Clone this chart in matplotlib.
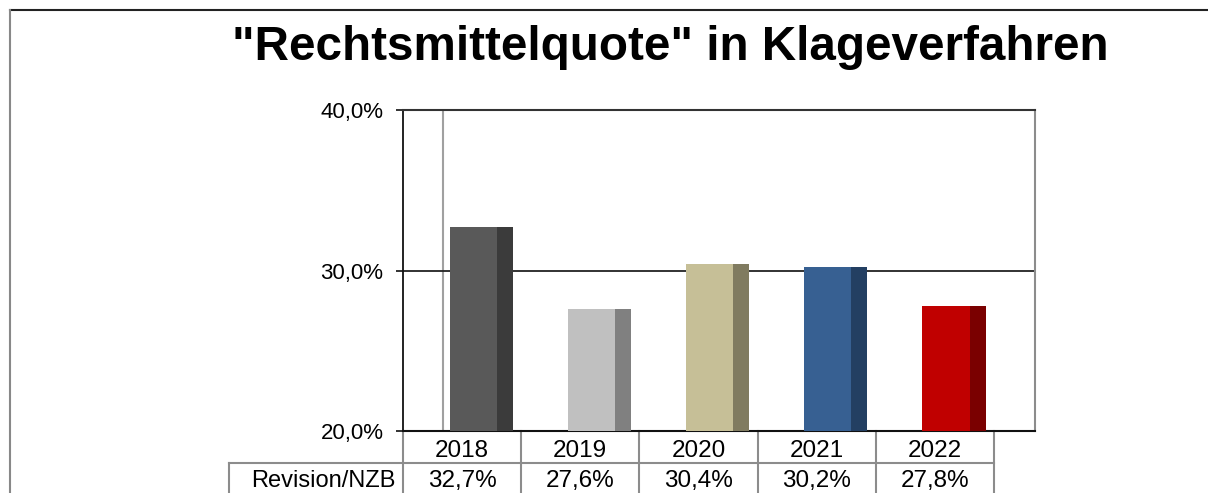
import matplotlib.pyplot as plt
from matplotlib.lines import Line2D
from matplotlib.transforms import blended_transform_factory

plt.rcParams['font.family'] = ['Liberation Sans', 'DejaVu Sans']

# Daten
jahre = ['2018', '2019', '2020', '2021', '2022']
quote = [32.7, 27.6, 30.4, 30.2, 27.8]
zeilen_label = 'Revision/NZB'
y_ticks = [20, 30, 40]
front_farben = ['#595959', '#c0c0c0', '#c6bf97', '#376092', '#c00000']
seiten_farben = ['#3b3b3b', '#808080', '#807b60', '#233f62', '#7a0000']

W, H = 1208, 493
fig = plt.figure(figsize=(W / 100, H / 100), dpi=100)


def px(x0, y0, x1, y1):
    # Rechteck in Pixeln (oben links) -> Figurkoordinaten
    return [x0 / W, 1 - y1 / H, (x1 - x0) / W, (y1 - y0) / H]


ax = fig.add_axes(px(403, 110, 1035, 431))
spalte = 118.0
tiefe = 40 / spalte
ax.set_xlim(-0.5, -0.5 + (1035 - 404) / spalte)
ax.set_ylim(20, 40)

# Rueckwand und Gitterlinie
ax.axvline(-0.5 + tiefe, color='#a0a0a0', lw=1.5, zorder=1)
ax.axhline(30, color='#222222', lw=1.3, zorder=1)

# Balken mit Front- und Seitenflaeche
basis = 20
x = list(range(len(jahre)))
front_breite = 0.40
seite_breite = 0.136
links = [i - 0.106 for i in x]
ax.bar(links, [q - basis for q in quote], width=front_breite, bottom=basis, align='edge',
       color=front_farben, edgecolor='none', zorder=3)
ax.bar([l + front_breite for l in links], [q - basis for q in quote], width=seite_breite,
       bottom=basis, align='edge', color=seiten_farben, edgecolor='none', zorder=3)

ax.spines['left'].set_color('#111111')
ax.spines['left'].set_linewidth(1.3)
ax.spines['bottom'].set_color('#111111')
ax.spines['bottom'].set_linewidth(1.5)
ax.spines['top'].set_color('#333333')
ax.spines['top'].set_linewidth(1.5)
ax.spines['right'].set_color('#8c8c8c')
ax.spines['right'].set_linewidth(1.5)

ax.set_yticks(y_ticks)
ax.set_yticklabels([f"{t:.1f}%".replace('.', ',') for t in y_ticks], fontsize=16)
ax.tick_params(axis='y', length=5, width=1.2, color='#111111', pad=9)
ax.set_xticks([])

# Datentabelle unter dem Diagramm
trans = blended_transform_factory(ax.transData, ax.transAxes)
h_px = 321.0
reihe1 = 32 / h_px
unten = -80 / h_px
grau = '#8c8c8c'
label_links = -0.5 - (404 - 230) / spalte

for k in range(len(jahre) + 1):
    ax.add_line(Line2D([-0.5 + k, -0.5 + k], [0, unten], transform=trans, color=grau,
                       lw=1.5, clip_on=False))
ax.add_line(Line2D([label_links, -0.5 + len(jahre)], [-reihe1, -reihe1], transform=trans,
                   color=grau, lw=1.5, clip_on=False))
ax.add_line(Line2D([label_links, label_links], [-reihe1, unten], transform=trans,
                   color=grau, lw=1.5, clip_on=False))

for i, (j, q) in enumerate(zip(jahre, quote)):
    ax.text(i, -(451 - 431) / h_px, j, transform=trans, ha='center', va='center', fontsize=17.5)
    ax.text(i, -(481 - 431) / h_px, f"{q:.1f}%".replace('.', ','), transform=trans,
            ha='center', va='center', fontsize=17.5)
ax.text(-0.5 - 7 / spalte, -(481 - 431) / h_px, zeilen_label, transform=trans,
        ha='right', va='center', fontsize=17)

# Titel
fig.text(670 / W, 1 - 60 / H, '"Rechtsmittelquote" in Klageverfahren', ha='center',
         va='baseline', fontsize=34.3, fontweight='bold')

# Rahmen
fig.add_artist(Line2D([10 / W, 1], [1 - 10 / H, 1 - 10 / H], transform=fig.transFigure,
                      color='#222222', lw=1.5))
fig.add_artist(Line2D([10 / W, 10 / W], [0, 1 - 10 / H], transform=fig.transFigure,
                      color='#888888', lw=1.5))

fig.savefig('out.png', dpi=100)
